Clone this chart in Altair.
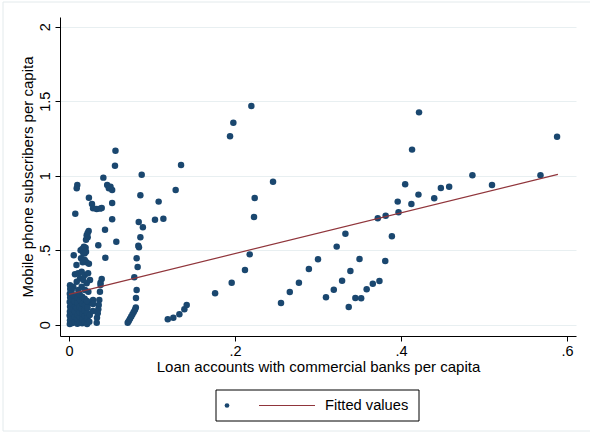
import altair as alt
import pandas as pd

# Scatter: loan accounts per capita (x) vs mobile subscribers per capita (y)
loan = [
    0.056, 0.0554, 0.135, 0.0876, 0.0414, 0.010, 0.0093, 0.046, 0.050, 0.048,
    0.052, 0.1285, 0.024, 0.086, 0.108, 0.052, 0.0277, 0.029, 0.0333, 0.0373,
    0.0394, 0.0076, 0.052, 0.1036, 0.1137, 0.084, 0.089, 0.0434, 0.0237, 0.0225,
    0.0213, 0.0225, 0.0205, 0.086, 0.057, 0.0835, 0.0843, 0.0353, 0.020, 0.014,
    0.017, 0.019, 0.0057, 0.0438, 0.0815, 0.021, 0.024, 0.0827, 0.0787, 0.0394,
    0.038, 0.038, 0.0373, 0.0815, 0.0807, 0.0365, 0.0358, 0.0353, 0.0346, 0.0337,
    0.0334, 0.0237,
    0.0707, 0.072, 0.0735, 0.075, 0.0765, 0.078, 0.0795, 0.0805,
    0.119, 0.1257, 0.133, 0.139, 0.1418,
    0.176, 0.196, 0.212, 0.2177, 0.194, 0.198, 0.2197,
    0.4217, 0.588, 0.4133, 0.2458, 0.2237, 0.2229,
    0.486, 0.568, 0.5096, 0.405, 0.458, 0.448, 0.440, 0.421, 0.4125, 0.396,
    0.397, 0.372, 0.3815, 0.389, 0.333, 0.3225, 0.300, 0.289, 0.350, 0.381,
    0.277, 0.266, 0.2554, 0.3096, 0.319, 0.329, 0.339, 0.337, 0.345, 0.352,
    0.3586, 0.366, 0.374,
    0.016, 0.018, 0.0205, 0.0173, 0.0145, 0.019, 0.0165, 0.009, 0.0072, 0.011,
    0.0153, 0.019, 0.023, 0.0133, 0.0173, 0.0253, 0.0093, 0.0213, 0.0052, 0.0153,
    0.0033, 0.0112, 0.0193, 0.0233, 0.0012, 0.0015,
    0.001, 0.0012, 0.0008, 0.0011, 0.0013, 0.0009, 0.0014, 0.0010,
    0.0042, 0.0038, 0.0045, 0.0040, 0.0043, 0.0037, 0.0041,
    0.0068, 0.0072, 0.0070, 0.0074, 0.0066, 0.0071,
    0.0101, 0.0098, 0.0104, 0.0097, 0.0102, 0.0099,
    0.0128, 0.0133, 0.0131, 0.0127, 0.0134, 0.0129,
    0.0158, 0.0163, 0.0161, 0.0157, 0.0164, 0.0159,
    0.0188, 0.0192, 0.0187, 0.0193, 0.0189,
    0.0218, 0.0222, 0.0219, 0.0223, 0.0217,
    0.0245, 0.025, 0.029, 0.029, 0.0288,
]
mobile = [
    1.168, 1.067, 1.072, 1.007, 0.987, 0.938, 0.915, 0.938, 0.926, 0.915,
    0.904, 0.904, 0.852, 0.868, 0.826, 0.817, 0.810, 0.781, 0.777, 0.779,
    0.783, 0.745, 0.707, 0.705, 0.711, 0.689, 0.654, 0.638, 0.629, 0.615,
    0.600, 0.587, 0.570, 0.587, 0.557, 0.530, 0.519, 0.533, 0.517, 0.499,
    0.501, 0.479, 0.466, 0.450, 0.446, 0.419, 0.409, 0.387, 0.318, 0.307,
    0.282, 0.266, 0.221, 0.233, 0.179, 0.166, 0.132, 0.103, 0.077, 0.047,
    0.013, 0.144,
    0.013, 0.025, 0.040, 0.055, 0.070, 0.085, 0.100, 0.115,
    0.036, 0.047, 0.070, 0.103, 0.132,
    0.211, 0.282, 0.367, 0.472, 1.264, 1.356, 1.468,
    1.425, 1.262, 1.175, 0.960, 0.850, 0.723,
    1.003, 1.003, 0.938, 0.942, 0.926, 0.917, 0.848, 0.873, 0.810, 0.826,
    0.754, 0.714, 0.731, 0.593, 0.611, 0.524, 0.439, 0.374, 0.441, 0.428,
    0.282, 0.219, 0.146, 0.184, 0.235, 0.295, 0.360, 0.119, 0.179, 0.177,
    0.238, 0.275, 0.293,
    0.508, 0.523, 0.490, 0.479, 0.446, 0.434, 0.419, 0.400, 0.338, 0.345,
    0.356, 0.334, 0.345, 0.311, 0.300, 0.300, 0.289, 0.278, 0.255, 0.255,
    0.233, 0.233, 0.233, 0.221, 0.265, 0.240,
    0.005, 0.030, 0.062, 0.088, 0.121, 0.152, 0.183, 0.208,
    0.012, 0.046, 0.074, 0.106, 0.138, 0.171, 0.199,
    0.021, 0.054, 0.091, 0.127, 0.158, 0.194,
    0.006, 0.041, 0.069, 0.112, 0.148, 0.181,
    0.015, 0.052, 0.084, 0.119, 0.166, 0.204,
    0.010, 0.039, 0.076, 0.109, 0.142, 0.188,
    0.019, 0.061, 0.096, 0.131, 0.174,
    0.005, 0.044, 0.081, 0.116, 0.159,
    0.020, 0.065, 0.166, 0.139, 0.092,
]

fit_x = [0.0, 0.589]
fit_y = [0.204, 1.009]

x_ticks = [0, 0.2, 0.4, 0.6]
y_ticks = [0, 0.5, 1, 1.5, 2]

pts = pd.DataFrame({"loan": loan, "mobile": mobile})
fit = pd.DataFrame({"loan": fit_x, "fitted": fit_y})
one = pd.DataFrame({"k": [0]})

FONT = "Liberation Sans"
NAVY = "#1a476f"
MAROON = "#90353b"
label_expr = "datum.value > 0 && datum.value < 1 ? substring(datum.label, 1) : datum.label"

xscale = alt.Scale(domain=[-0.01084, 0.6108], nice=False, zero=False)
yscale = alt.Scale(domain=[-0.0758, 2.065], nice=False, zero=False)

xaxis = alt.Axis(
    title="Loan accounts with commercial banks per capita",
    values=x_ticks, format="~g", labelExpr=label_expr, grid=False,
    domainColor="#000000", tickColor="#000000", tickSize=5, labelPadding=3,
    labelFont=FONT, labelFontSize=14.5, labelColor="#000000",
    titleFont=FONT, titleFontSize=15, titleFontWeight="normal", titleColor="#000000",
    titlePadding=2,
)
yaxis = alt.Axis(
    title="Mobile phone subscribers per capita",
    values=y_ticks, format="~g", labelExpr=label_expr,
    grid=True, gridColor="#e8eff1", gridWidth=1,
    domainColor="#000000", tickColor="#000000", tickSize=5, labelPadding=3,
    labelAngle=270, labelAlign="center", labelBaseline="bottom",
    labelFont=FONT, labelFontSize=14.5, labelColor="#000000",
    titleFont=FONT, titleFontSize=15, titleFontWeight="normal", titleColor="#000000",
    titlePadding=2,
)

frame = alt.Chart(one).mark_rect(fillOpacity=0, stroke="#e3eaec", strokeWidth=1).encode(
    x=alt.value(-57), x2=alt.value(540), y=alt.value(-15), y2=alt.value(414)
)

points = alt.Chart(pts).mark_circle(size=42, color=NAVY, opacity=1).encode(
    x=alt.X("loan:Q", scale=xscale, axis=xaxis),
    y=alt.Y("mobile:Q", scale=yscale, axis=yaxis),
)

line = alt.Chart(fit).mark_line(color=MAROON, strokeWidth=1.2).encode(
    x=alt.X("loan:Q", scale=xscale),
    y=alt.Y("fitted:Q", scale=yscale),
)

leg_box = alt.Chart(one).mark_rect(fill="white", stroke="#000000", strokeWidth=1).encode(
    x=alt.value(156), x2=alt.value(359), y=alt.value(373), y2=alt.value(404)
)
leg_dot = alt.Chart(one).mark_circle(size=22, color=NAVY, opacity=1).encode(
    x=alt.value(167), y=alt.value(388.5)
)
leg_line = alt.Chart(one).mark_rule(color=MAROON, strokeWidth=1.2).encode(
    x=alt.value(199), x2=alt.value(255), y=alt.value(388.5)
)
leg_text = alt.Chart(one).mark_text(
    text="Fitted values", align="left", baseline="middle", font=FONT, fontSize=14.7, color="#000000"
).encode(x=alt.value(265), y=alt.value(389))

chart = alt.layer(frame, points, line, leg_box, leg_dot, leg_line, leg_text).properties(
    width=516, height=319,
    padding={"left": 60, "top": 17, "right": 14, "bottom": 97},
    autosize=alt.AutoSizeParams(type="none"),
    background="white",
).configure_view(strokeWidth=0)

chart.save("out.html", embed_options={"renderer": "svg", "actions": False})
